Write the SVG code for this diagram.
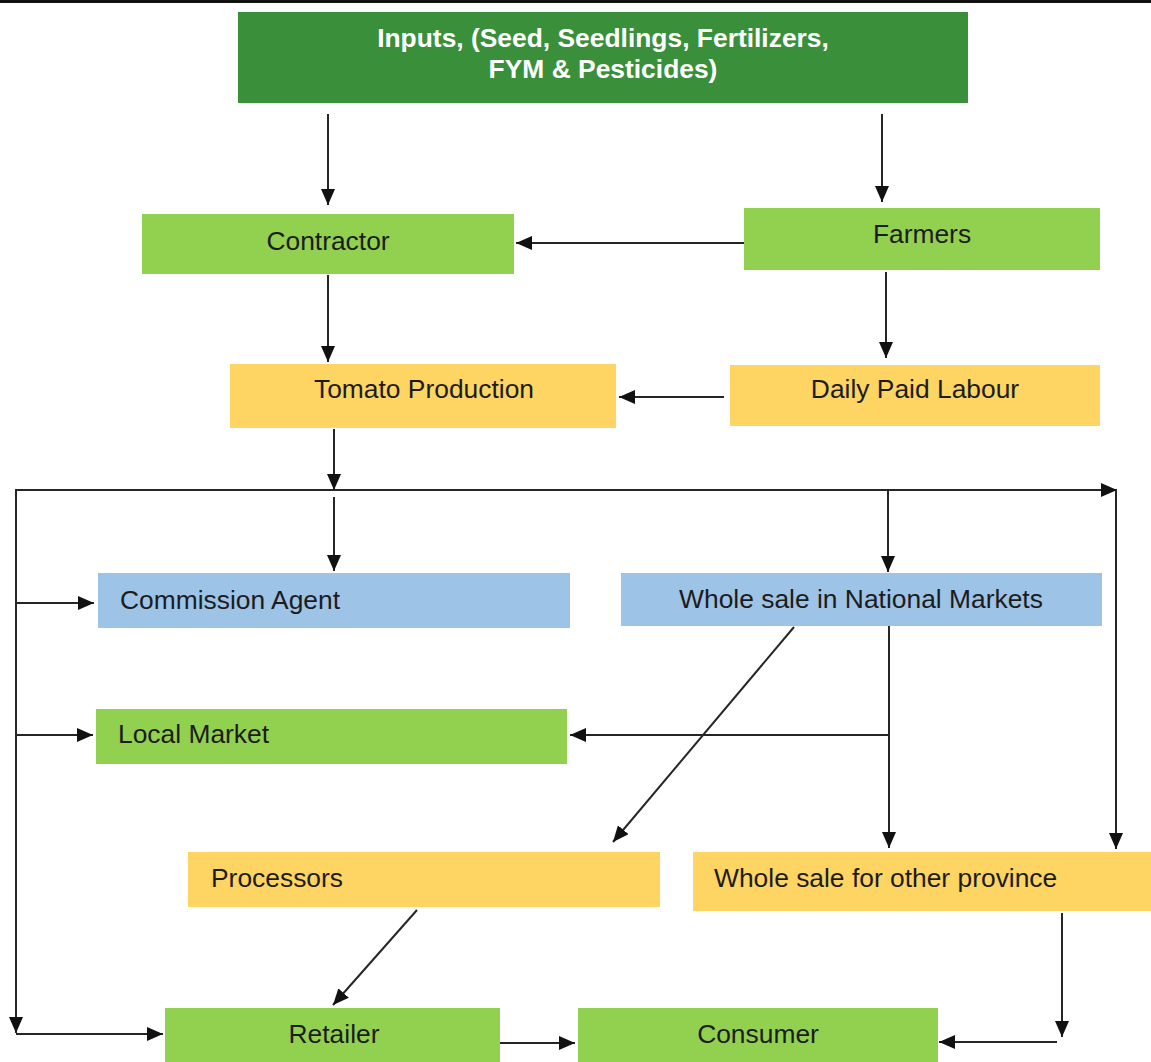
<svg xmlns="http://www.w3.org/2000/svg" width="1151" height="1062" viewBox="0 0 1151 1062">
<defs>
<marker id="ah" viewBox="0 0 16 14" refX="16" refY="7" markerWidth="16" markerHeight="14" markerUnits="userSpaceOnUse" orient="auto">
<path d="M0,0 L16,7 L0,14 z" fill="#111"/>
</marker>
<style>
.dg{fill:#3a8f3a}
.lg{fill:#92d050}
.yl{fill:#fed462}
.bl{fill:#9dc3e6}
.t{font-family:"Liberation Sans",Arial,sans-serif;font-size:26.4px;fill:#1c1c1c}
.c{text-anchor:middle}
.title{font-family:"Liberation Sans",Arial,sans-serif;font-size:26.4px;font-weight:bold;fill:#ffffff;text-anchor:middle}
.cn line{stroke:#262626;stroke-width:2;fill:none}
.a{marker-end:url(#ah)}
</style>
</defs>
<rect x="0" y="0" width="1151" height="1062" fill="#ffffff"/>
<rect x="0" y="0" width="1151" height="3" fill="#111111"/>

<g id="inputs"><rect class="dg" x="238" y="12" width="730" height="91"/>
<text class="title" x="603" y="47">Inputs, (Seed, Seedlings, Fertilizers,</text>
<text class="title" x="603" y="78">FYM &amp; Pesticides)</text></g>

<g id="contractor"><rect class="lg" x="142" y="214" width="372" height="60"/>
<text class="t c" x="328" y="250">Contractor</text></g>

<g id="farmers"><rect class="lg" x="744" y="208" width="356" height="62"/>
<text class="t c" x="922" y="243">Farmers</text></g>

<g id="tomato"><rect class="yl" x="230" y="364" width="386" height="64"/>
<text class="t c" x="424" y="398">Tomato Production</text></g>

<g id="labour"><rect class="yl" x="730" y="365" width="370" height="61"/>
<text class="t c" x="915" y="398">Daily Paid Labour</text></g>

<g id="commission"><rect class="bl" x="98" y="573" width="472" height="55"/>
<text class="t" x="120" y="609">Commission Agent</text></g>

<g id="wholesale-national"><rect class="bl" x="621" y="573" width="481" height="53"/>
<text class="t c" x="861" y="608">Whole sale in National Markets</text></g>

<g id="local-market"><rect class="lg" x="96" y="709" width="471" height="55"/>
<text class="t" x="118" y="743">Local Market</text></g>

<g id="processors"><rect class="yl" x="188" y="852" width="472" height="55"/>
<text class="t" x="211" y="887">Processors</text></g>

<g id="wholesale-province"><rect class="yl" x="693" y="852" width="458" height="59"/>
<text class="t" x="714" y="887">Whole sale for other province</text></g>

<g id="retailer"><rect class="lg" x="165" y="1008" width="335" height="54"/>
<text class="t c" x="334" y="1043">Retailer</text></g>

<g id="consumer"><rect class="lg" x="578" y="1008" width="360" height="54"/>
<text class="t c" x="758" y="1043">Consumer</text></g>

<g id="connectors" class="cn">
<line class="a" x1="328" y1="114" x2="328" y2="205"/>
<line class="a" x1="882" y1="114" x2="882" y2="202"/>
<line class="a" x1="744" y1="243" x2="516" y2="243"/>
<line class="a" x1="328" y1="275" x2="328" y2="362"/>
<line class="a" x1="886" y1="272" x2="886" y2="358"/>
<line class="a" x1="724" y1="397" x2="619" y2="397"/>
<line class="a" x1="334" y1="429" x2="334" y2="490"/>
<line class="a" x1="16" y1="490" x2="1117" y2="490"/>
<line class="a" x1="1116" y1="490" x2="1116" y2="849"/>
<line class="a" x1="334" y1="497" x2="334" y2="571"/>
<line class="a" x1="888" y1="490" x2="888" y2="572"/>
<line x1="16" y1="489" x2="16" y2="1020"/>
<line class="a" x1="16" y1="1000" x2="16" y2="1033"/>
<line class="a" x1="16" y1="603" x2="94" y2="603"/>
<line class="a" x1="16" y1="735" x2="93" y2="735"/>
<line class="a" x1="16" y1="1034" x2="163" y2="1034"/>
<line class="a" x1="889" y1="626" x2="889" y2="848"/>
<line class="a" x1="889" y1="735" x2="570" y2="735"/>
<line class="a" x1="794" y1="627" x2="613" y2="842"/>
<line class="a" x1="417" y1="910" x2="333" y2="1005"/>
<line class="a" x1="500" y1="1043" x2="575" y2="1043"/>
<line class="a" x1="1062" y1="913" x2="1062" y2="1037"/>
<line class="a" x1="1057" y1="1042" x2="939" y2="1042"/>
</g>
</svg>
